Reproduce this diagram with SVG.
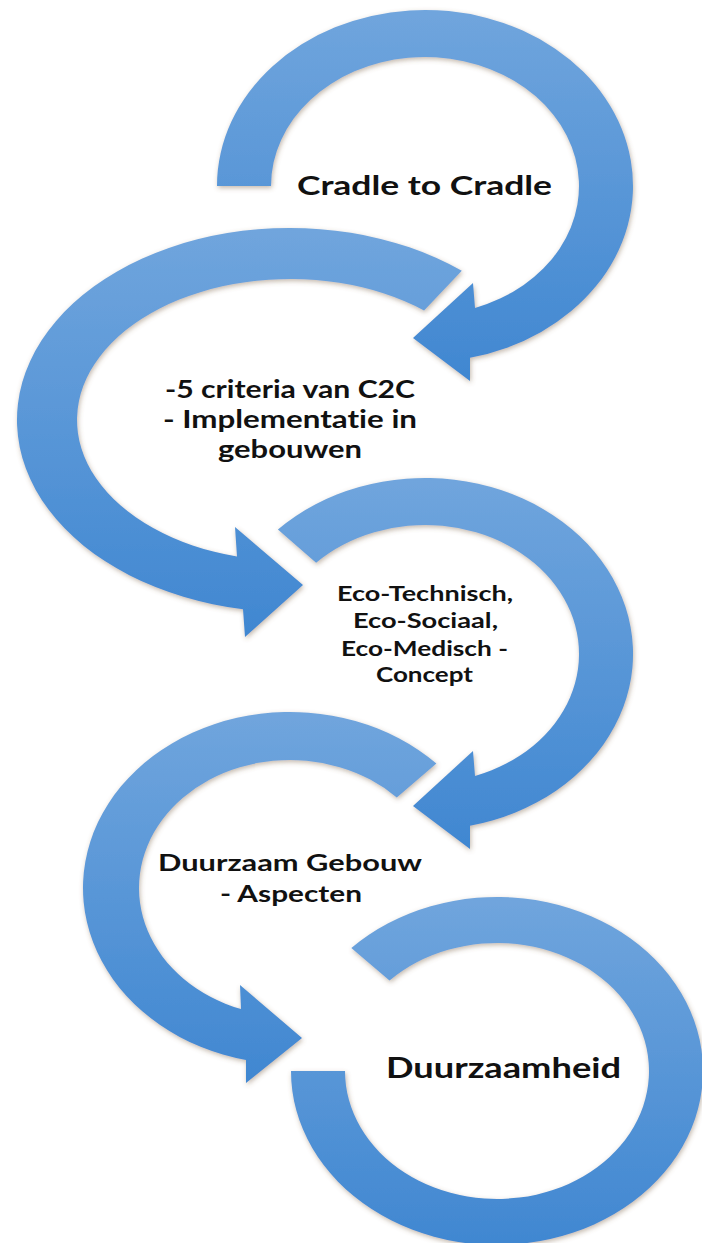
<svg xmlns="http://www.w3.org/2000/svg" width="702" height="1243" viewBox="0 0 702 1243">
<defs>
<linearGradient id="blue" x1="0" y1="0" x2="0" y2="1">
<stop offset="0" stop-color="#70A5DD"/>
<stop offset="1" stop-color="#4087D1"/>
</linearGradient>
<filter id="sh" x="-10%" y="-10%" width="120%" height="120%">
<feDropShadow dx="1" dy="2" stdDeviation="2.5" flood-color="#7a6445" flood-opacity="0.45"/>
</filter>
</defs>
<style>
.arrow{fill:url(#blue);filter:url(#sh);}
.lbl{font-family:Lato,"Liberation Sans",sans-serif;font-weight:700;fill:#111;font-variant-ligatures:none;}
</style>
<rect width="702" height="1243" fill="#fff"/>
<g id="connectors"></g>
<g id="step1">
<path class="arrow" d="M217,186 A208,176 0 1 1 470,357.8 L470,381 L413,338 L473,283 L475,308 A154,129 0 1 0 271,186 Z"/>
<text class="lbl" font-size="26" x="297" y="195" textLength="255" lengthAdjust="spacingAndGlyphs">Cradle to Cradle</text>
</g>
<g id="step2">
<path class="arrow" d="M461.8,270.79 A273,192 0 1 0 243,609.13 L245,637 L303,585 L235,527 L237,556.57 A213,141 0 1 1 424.05,310.42 Z"/>
<text class="lbl" font-size="25" x="165" y="398" textLength="250" lengthAdjust="spacingAndGlyphs">-5 criteria van C2C</text>
<text class="lbl" font-size="25" x="163" y="428" textLength="254" lengthAdjust="spacingAndGlyphs">- Implementatie in</text>
<text class="lbl" font-size="25" x="218" y="458" textLength="144" lengthAdjust="spacingAndGlyphs">gebouwen</text>
</g>
<g id="step3">
<path class="arrow" d="M277.92,529.55 A208,176 0 1 1 470,825.8 L470,849 L413,806 L473,751 L475,776 A154,129 0 1 0 316.11,562.78 Z"/>
<text class="lbl" font-size="21" x="337" y="601" textLength="176" lengthAdjust="spacingAndGlyphs">Eco-Technisch,</text>
<text class="lbl" font-size="21" x="353" y="628" textLength="145" lengthAdjust="spacingAndGlyphs">Eco-Sociaal,</text>
<text class="lbl" font-size="21" x="341" y="656" textLength="167" lengthAdjust="spacingAndGlyphs">Eco-Medisch -</text>
<text class="lbl" font-size="21" x="376" y="682" textLength="97" lengthAdjust="spacingAndGlyphs">Concept</text>
</g>
<g id="step4">
<path class="arrow" d="M436.37,763.55 A207,176 0 1 0 246,1059.98 L246,1083 L302,1038 L240,985 L241,1009.07 A151,128 0 1 1 396.77,797.49 Z"/>
<text class="lbl" font-size="23" x="158" y="871" textLength="264" lengthAdjust="spacingAndGlyphs">Duurzaam Gebouw</text>
<text class="lbl" font-size="23" x="220" y="902" textLength="142" lengthAdjust="spacingAndGlyphs">- Aspecten</text>
</g>
<g id="step5">
<path class="arrow" d="M351.34,947.96 A206,174 0 1 1 291,1071 L345,1071 A152,128 0 1 0 389.52,980.49 Z"/>
<text class="lbl" font-size="28" x="386" y="1078" textLength="235" lengthAdjust="spacingAndGlyphs">Duurzaamheid</text>
</g>
</svg>
